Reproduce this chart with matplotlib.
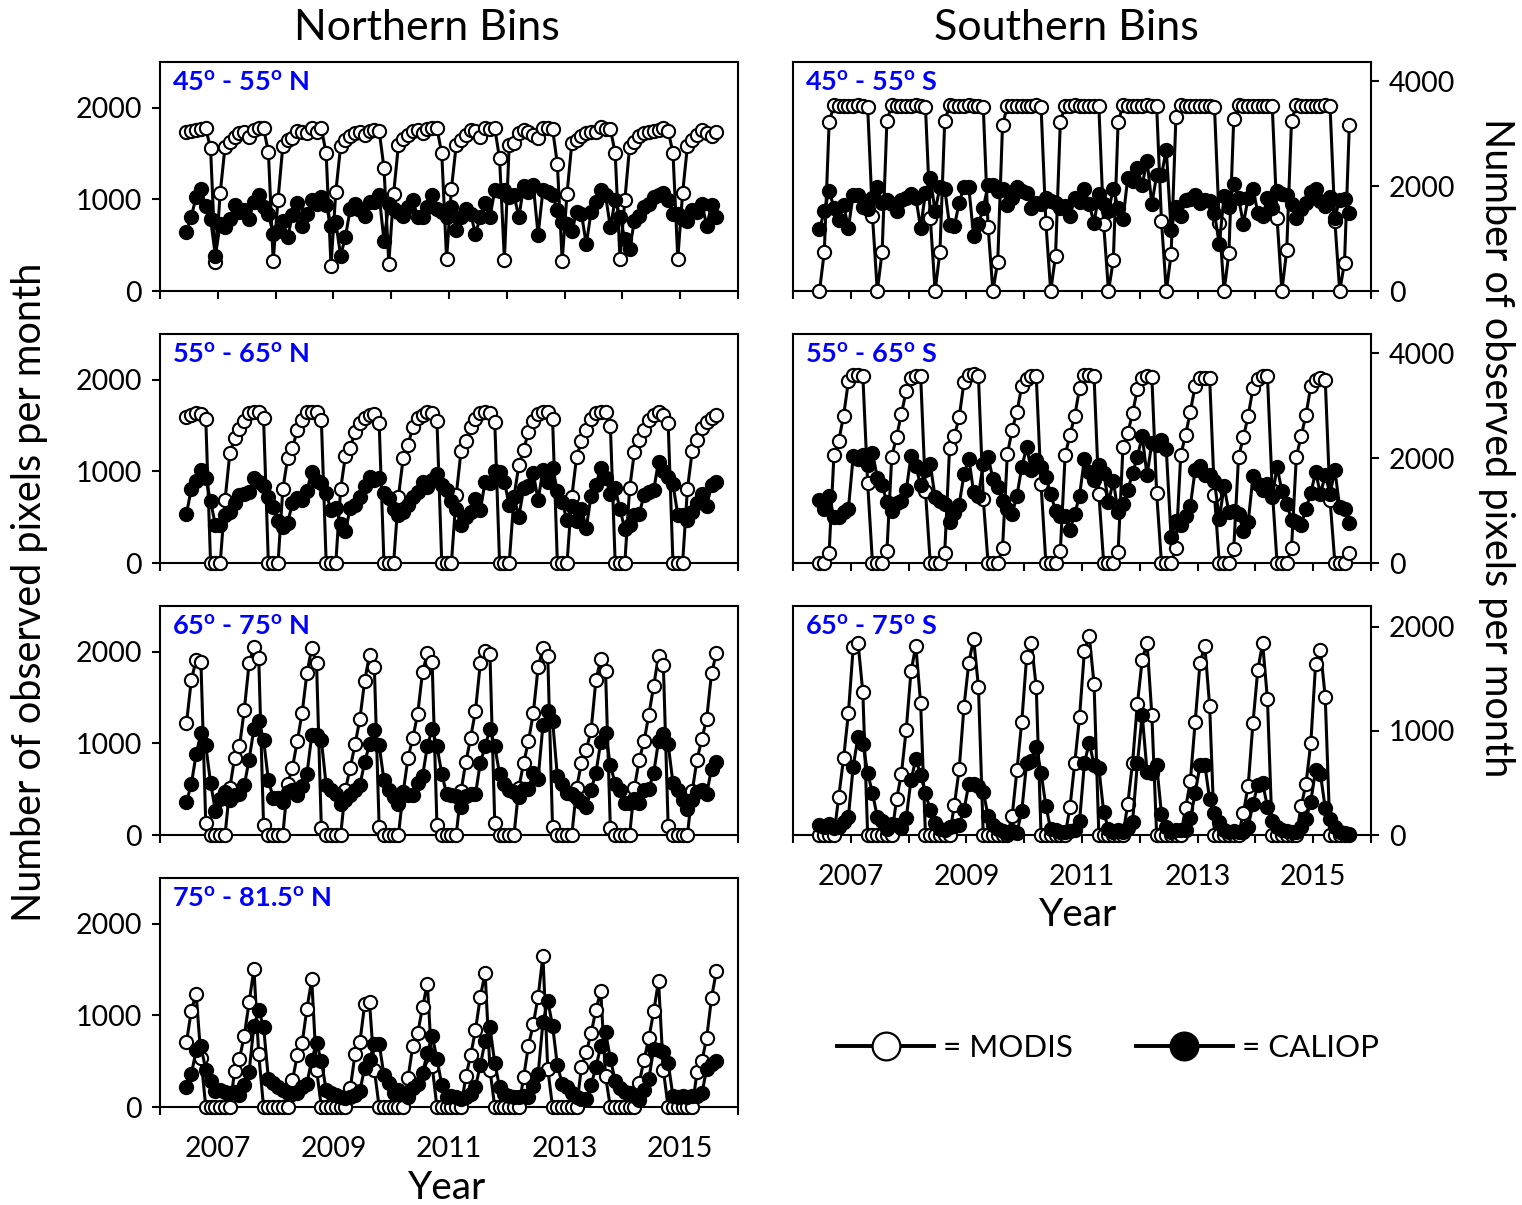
import numpy as np
import matplotlib
matplotlib.use("Agg")
import matplotlib.pyplot as plt
from matplotlib.lines import Line2D

plt.rcParams["font.family"] = ["Lato", "DejaVu Sans"]
plt.rcParams["mathtext.fontset"] = "custom"
plt.rcParams["mathtext.rm"] = "Lato"
plt.rcParams["mathtext.bf"] = "Lato:bold"

# monthly values, June 2006 .. August 2015
FIRST_YEAR, FIRST_MONTH, N_MONTHS = 2006, 6, 111
m = np.arange(N_MONTHS) + FIRST_MONTH - 1
years = FIRST_YEAR + m // 12 + (m % 12 + 0.5) / 12

# ---- 45-55 N
modis_n45 = [1740, 1747, 1758, 1769, 1776, 1557, 319,
             1070, 1575, 1630, 1685, 1722, 1740, 1685, 1758, 1776, 1776, 1520, 330,
             996, 1582, 1648, 1666, 1750, 1740, 1722, 1776, 1740, 1776, 1502, 275,
             1080, 1582, 1648, 1692, 1729, 1740, 1703, 1750, 1758, 1750, 1344, 300,
             1062, 1593, 1655, 1703, 1747, 1758, 1722, 1765, 1776, 1776, 1502, 348,
             1117, 1593, 1648, 1703, 1758, 1747, 1685, 1776, 1769, 1776, 1447, 341,
             1593, 1619, 1722, 1758, 1740, 1700, 1666, 1776, 1776, 1769, 1385, 330,
             1062, 1612, 1648, 1692, 1729, 1740, 1740, 1795, 1769, 1769, 1509, 348,
             989, 1575, 1630, 1692, 1729, 1740, 1747, 1758, 1776, 1747, 1509, 352,
             1070, 1582, 1648, 1703, 1758, 1722, 1692, 1740]
caliop_n45 = [641, 813, 1026, 1117, 927, 788, 385,
              733, 703, 788, 934, 861, 879, 788, 971, 1044, 916, 842, 623,
              659, 769, 586, 835, 960, 714, 842, 989, 945, 1026, 934, 714,
              751, 385, 593, 897, 945, 879, 824, 971, 971, 1044, 549, 952,
              897, 861, 824, 916, 989, 806, 806, 916, 1044, 897, 861, 806,
              916, 667, 806, 897, 842, 623, 806, 960, 806, 1099, 1092, 1106,
              1026, 1044, 806, 1143, 1081, 1154, 615, 1099, 1081, 1044, 886, 751,
              733, 652, 861, 842, 513, 861, 971, 1099, 1044, 696, 996, 813,
              568, 458, 769, 824, 916, 945, 1026, 1044, 1070, 996, 842, 842,
              788, 769, 879, 861, 952, 714, 934, 813]

# ---- 55-65 N
modis_n55 = [1599, 1615, 1635, 1624, 1573, 0, 0,
             0, 686, 1197, 1361, 1464, 1551, 1635, 1646, 1646, 1580, 0, 0,
             0, 807, 1142, 1252, 1453, 1562, 1653, 1653, 1646, 1562, 0, 0,
             0, 807, 1172, 1259, 1434, 1526, 1588, 1617, 1624, 1526, 0, 0,
             0, 723, 1150, 1288, 1489, 1588, 1617, 1646, 1640, 1551, 0, 0,
             0, 741, 1223, 1332, 1489, 1573, 1635, 1646, 1635, 1544, 0, 0,
             0, 723, 1069, 1234, 1434, 1551, 1624, 1653, 1646, 1573, 0, 0,
             0, 723, 1161, 1332, 1453, 1573, 1635, 1646, 1646, 1500, 0, 0,
             0, 814, 1215, 1343, 1453, 1562, 1617, 1646, 1617, 1526, 0, 0,
             0, 807, 1223, 1343, 1471, 1544, 1580, 1617]
caliop_n55 = [540, 807, 894, 1015, 923, 675, 412,
              420, 522, 558, 650, 741, 752, 777, 931, 887, 843, 723, 613,
              456, 394, 442, 650, 712, 686, 785, 996, 894, 869, 759, 577,
              602, 431, 347, 602, 631, 723, 843, 942, 905, 923, 759, 712,
              588, 529, 558, 631, 723, 777, 887, 832, 905, 967, 850, 796,
              675, 588, 412, 504, 558, 704, 577, 887, 869, 1004, 996, 887,
              631, 723, 504, 814, 843, 978, 686, 1015, 887, 1040, 785, 661,
              467, 624, 456, 588, 383, 734, 850, 1040, 931, 748, 814, 588,
              369, 412, 522, 540, 741, 777, 796, 1106, 1004, 942, 858, 529,
              522, 467, 558, 650, 748, 624, 850, 880]

# ---- 65-75 N
modis_n65 = [1221, 1692, 1909, 1884, 127, 0, 0,
             0, 0, 518, 844, 967, 1366, 1873, 2054, 1931, 109, 0, 0,
             0, 0, 562, 736, 1025, 1330, 1764, 2040, 1873, 72, 0, 0,
             0, 0, 496, 736, 989, 1268, 1685, 1967, 1837, 83, 0, 0,
             0, 0, 471, 844, 1062, 1322, 1775, 1982, 1884, 109, 0, 0,
             0, 0, 482, 797, 1062, 1359, 1873, 2004, 1975, 134, 0, 0,
             0, 0, 518, 786, 1025, 1330, 1830, 2040, 1957, 83, 0, 0,
             0, 0, 518, 786, 931, 1141, 1692, 1920, 1786, 72, 0, 0,
             0, 0, 518, 822, 1025, 1315, 1630, 1957, 1859, 98, 0, 0,
             0, 0, 482, 822, 1051, 1268, 1764, 1982]
caliop_n65 = [362, 554, 880, 1112, 978, 569, 264,
              388, 471, 380, 435, 446, 543, 822, 1159, 1250, 1040, 598, 409,
              409, 362, 471, 496, 435, 533, 663, 1087, 1087, 1033, 543, 496,
              446, 337, 380, 435, 489, 543, 797, 989, 1149, 978, 598, 489,
              417, 337, 471, 435, 435, 569, 641, 967, 1159, 967, 670, 446,
              435, 424, 301, 424, 446, 446, 786, 967, 1159, 967, 670, 562,
              496, 471, 417, 507, 507, 678, 616, 1196, 1351, 1250, 641, 562,
              460, 453, 399, 362, 308, 496, 678, 1014, 1112, 761, 562, 496,
              344, 344, 388, 344, 496, 507, 678, 1025, 1105, 989, 569, 496,
              380, 279, 380, 471, 496, 446, 725, 797]

# ---- 75-81.5 N
modis_n75 = [708, 1051, 1238, 538, 0, 0, 0,
             0, 0, 0, 394, 527, 780, 1141, 1509, 574, 0, 0, 0,
             0, 0, 0, 292, 563, 697, 1069, 1394, 408, 0, 0, 0,
             0, 0, 0, 202, 581, 708, 1123, 1141, 408, 0, 0, 0,
             0, 0, 0, 321, 671, 805, 1087, 1347, 444, 0, 0, 0,
             0, 0, 0, 336, 563, 841, 1202, 1466, 408, 0, 0, 0,
             0, 0, 0, 329, 671, 906, 1202, 1653, 419, 0, 0, 0,
             0, 0, 0, 437, 599, 805, 1058, 1267, 336, 0, 0, 0,
             0, 0, 0, 267, 516, 755, 1043, 1375, 401, 0, 0, 0,
             0, 0, 0, 383, 502, 755, 1188, 1484]
caliop_n75 = [220, 357, 617, 661, 408, 285, 177,
              184, 166, 155, 166, 130, 238, 383, 888, 1058, 877, 310, 264,
              220, 184, 155, 141, 155, 213, 256, 516, 697, 502, 184, 155,
              130, 112, 94, 105, 130, 177, 430, 516, 690, 690, 347, 264,
              155, 184, 141, 112, 202, 256, 372, 588, 780, 527, 238, 112,
              119, 105, 83, 105, 141, 220, 455, 718, 870, 480, 220, 141,
              119, 105, 112, 119, 112, 227, 357, 924, 1159, 888, 455, 256,
              213, 155, 112, 83, 83, 238, 437, 661, 816, 527, 285, 202,
              166, 155, 119, 79, 184, 310, 635, 625, 599, 480, 119, 112,
              119, 112, 119, 119, 148, 419, 473, 502]

# ---- 45-55 S
modis_s45 = [0, 749, 3219, 3545, 3530, 3535, 3525,
             3530, 3540, 3530, 3511, 1429, 0, 743, 3250, 3545, 3530, 3535, 3530,
             3525, 3540, 3530, 3511, 1397, 0, 743, 3238, 3540, 3535, 3530, 3530,
             3540, 3530, 3530, 3511, 1225, 0, 552, 3162, 3530, 3535, 3530, 3525,
             3535, 3530, 3540, 3520, 1302, 0, 667, 3225, 3535, 3530, 3540, 3530,
             3530, 3535, 3530, 3525, 1270, 0, 584, 3225, 3540, 3530, 3530, 3535,
             3530, 3540, 3530, 3525, 1333, 0, 698, 3321, 3545, 3535, 3530, 3530,
             3535, 3530, 3530, 3520, 1289, 0, 730, 3289, 3540, 3530, 3535, 3530,
             3530, 3535, 3530, 3525, 1384, 0, 775, 3250, 3540, 3530, 3530, 3535,
             3530, 3530, 3540, 3525, 1333, 0, 540, 3162]
caliop_s45 = [1175, 1524, 1917, 1587, 1346, 1638, 1206,
              1841, 1841, 1600, 1556, 1778, 1981, 1683, 1746, 1651, 1524, 1746, 1778,
              1854, 1778, 1206, 1873, 2159, 1524, 1981, 1956, 1257, 1238, 1683, 1981,
              1981, 1048, 1270, 1587, 2019, 2019, 1905, 1937, 1638, 1778, 1981, 1905,
              1873, 1587, 1683, 1663, 1778, 1714, 1683, 1587, 1619, 1429, 1778, 1702,
              1956, 1651, 1302, 1854, 1651, 1524, 1956, 1587, 1365, 2159, 2108, 2349,
              2019, 2489, 1663, 2209, 2209, 2698, 1156, 1600, 1429, 1746, 1765, 1829,
              1683, 1746, 1714, 1492, 889, 1810, 1600, 2044, 1778, 1283, 1778, 1956,
              1492, 1429, 1778, 1587, 1917, 1854, 1841, 1651, 1384, 1556, 1683, 1892,
              1937, 1714, 1619, 1790, 1397, 1746, 1765, 1492]

# ---- 55-65 S
modis_s55 = [0, 0, 199, 2058, 2333, 2808, 3468,
             3596, 3596, 3577, 1526, 0, 0, 0, 231, 2026, 2410, 2846, 3276,
             3532, 3577, 3577, 1372, 0, 0, 0, 199, 2186, 2423, 2782, 3449,
             3596, 3615, 3564, 1224, 0, 0, 0, 282, 2077, 2538, 2891, 3372,
             3513, 3564, 3564, 1500, 0, 0, 0, 231, 2058, 2442, 2808, 3340,
             3596, 3596, 3564, 1321, 0, 0, 0, 218, 2205, 2474, 2859, 3321,
             3532, 3577, 3551, 1333, 0, 0, 0, 282, 2058, 2442, 2891, 3385,
             3532, 3532, 3532, 1300, 0, 0, 0, 263, 2026, 2397, 2808, 3340,
             3513, 3577, 3564, 1400, 0, 0, 0, 282, 2026, 2423, 2827, 3372,
             3500, 3532, 3500, 1200, 0, 0, 0, 199]
caliop_s55 = [1205, 1032, 1288, 872, 872, 968, 1032,
              2038, 1994, 2058, 1865, 2103, 1628, 1481, 1160, 1000, 1141, 1192, 1385,
              2038, 1846, 1481, 1782, 1885, 1256, 1192, 1128, 776, 949, 1115, 1692,
              1994, 1353, 1288, 1897, 2026, 1609, 1449, 1192, 1032, 936, 1288, 1833,
              2205, 1782, 1962, 1833, 1641, 1321, 1000, 904, 904, 628, 936, 1288,
              1994, 1737, 1590, 1865, 1718, 1160, 1564, 968, 1128, 1385, 1718, 2026,
              2423, 1673, 2295, 2250, 2346, 2167, 487, 808, 731, 904, 1096, 1782,
              1846, 1673, 1673, 1564, 840, 1462, 968, 1000, 936, 615, 776, 1654,
              1500, 1385, 1513, 1256, 1833, 1372, 1128, 821, 776, 731, 1032, 1333,
              1737, 1321, 1673, 1321, 1769, 1064, 1032, 756]

# ---- 65-75 S
modis_s65 = [0, 0, 0, 0, 369, 737, 1170,
             1804, 1849, 1369, 0, 0, 0, 0, 0, 0, 343, 587, 1010,
             1571, 1817, 1266, 0, 0, 0, 0, 0, 0, 288, 631, 1234,
             1657, 1881, 1426, 0, 0, 0, 0, 0, 0, 183, 625, 1090,
             1708, 1843, 1420, 0, 0, 0, 0, 0, 0, 266, 696, 1138,
             1772, 1913, 1452, 0, 0, 0, 0, 0, 0, 298, 696, 1260,
             1683, 1849, 1154, 0, 0, 0, 0, 0, 0, 256, 522, 1090,
             1651, 1817, 1240, 0, 0, 0, 0, 0, 0, 215, 471, 1080,
             1587, 1843, 1304, 0, 0, 0, 0, 0, 0, 279, 490, 881,
             1644, 1779, 1324, 0, 0, 0, 0, 0]
caliop_s65 = [96, 80, 106, 64, 80, 128, 176,
              657, 946, 875, 599, 401, 176, 138, 54, 106, 96, 64, 160,
              529, 728, 577, 401, 240, 119, 54, 48, 74, 87, 96, 240,
              490, 490, 471, 417, 183, 96, 54, 42, 22, 42, 22, 234,
              689, 715, 849, 599, 279, 54, 48, 32, 32, 42, 48, 138,
              689, 888, 673, 641, 224, 54, 32, 48, 32, 64, 128, 689,
              1154, 609, 593, 673, 202, 80, 32, 48, 48, 48, 160, 401,
              673, 673, 343, 208, 128, 48, 32, 42, 32, 32, 80, 298,
              481, 497, 272, 138, 80, 48, 42, 32, 32, 80, 151, 321,
              625, 587, 256, 151, 74, 32, 16, 10]

# (label, modis, caliop, column, row, y max, y ticks)
panels = [
    ("45$^{\\mathbf{o}}$ - 55$^{\\mathbf{o}}$ N", modis_n45, caliop_n45, 0, 0, 2500, [0, 1000, 2000]),
    ("55$^{\\mathbf{o}}$ - 65$^{\\mathbf{o}}$ N", modis_n55, caliop_n55, 0, 1, 2500, [0, 1000, 2000]),
    ("65$^{\\mathbf{o}}$ - 75$^{\\mathbf{o}}$ N", modis_n65, caliop_n65, 0, 2, 2500, [0, 1000, 2000]),
    ("75$^{\\mathbf{o}}$ - 81.5$^{\\mathbf{o}}$ N", modis_n75, caliop_n75, 0, 3, 2500, [0, 1000, 2000]),
    ("45$^{\\mathbf{o}}$ - 55$^{\\mathbf{o}}$ S", modis_s45, caliop_s45, 1, 0, 4370, [0, 2000, 4000]),
    ("55$^{\\mathbf{o}}$ - 65$^{\\mathbf{o}}$ S", modis_s55, caliop_s55, 1, 1, 4370, [0, 2000, 4000]),
    ("65$^{\\mathbf{o}}$ - 75$^{\\mathbf{o}}$ S", modis_s65, caliop_s65, 1, 2, 2200, [0, 1000, 2000]),
]

W, H = 1522, 1205
fig = plt.figure(figsize=(W / 100, H / 100), dpi=100)

col_left = [160, 793]
row_bottom = [291, 563, 835, 1107]
ax_w, ax_h = 578, 229

for label, modis, caliop, col, row, ymax, yticks in panels:
    ax = fig.add_axes([col_left[col] / W, 1 - row_bottom[row] / H, ax_w / W, ax_h / H])
    ax.plot(years, modis, "-o", color="black", lw=2.2, ms=9.5, mfc="white",
            mec="black", mew=1.5, clip_on=False, zorder=3)
    ax.plot(years, caliop, "-o", color="black", lw=2.2, ms=9.5, mfc="black",
            mec="black", mew=1.5, clip_on=False, zorder=4)
    ax.set_xlim(2006, 2016)
    ax.set_ylim(0, ymax)
    ax.set_yticks(yticks)
    ax.set_xticks(range(2006, 2017))
    bottom_row = (col == 0 and row == 3) or (col == 1 and row == 2)
    if bottom_row:
        ax.set_xticklabels([str(y) if y % 2 == 1 and 2006 < y < 2016 else "" for y in range(2006, 2017)])
    else:
        ax.set_xticklabels([])
    ax.tick_params(direction="out", length=6, width=1.5, labelsize=20.5, pad=7)
    ax.tick_params(axis="x", pad=15)
    if col == 1:
        ax.yaxis.tick_right()
    for s in ax.spines.values():
        s.set_linewidth(1.5)
    ax.text(0.02, 0.91, label, transform=ax.transAxes, color="blue",
            fontsize=19.5, fontweight="bold", ha="left", va="center")

fig.text(427 / W, 1 - 28 / H, "Northern Bins", fontsize=31, ha="center", va="center")
fig.text(1066 / W, 1 - 28 / H, "Southern Bins", fontsize=31, ha="center", va="center")
fig.text(30 / W, 1 - 592 / H, "Number of observed pixels per month", fontsize=28.5,
         rotation=90, ha="center", va="center")
fig.text(1497 / W, 1 - 448 / H, "Number of observed pixels per month", fontsize=28.5,
         rotation=270, ha="center", va="center")
fig.text(447 / W, 1 - 1188 / H, "Year", fontsize=28, ha="center", va="center")
fig.text(1078 / W, 1 - 915 / H, "Year", fontsize=28, ha="center", va="center")

handles = [
    Line2D([], [], color="black", lw=2.8, marker="o", ms=20, mfc="white", mec="black", mew=1.6),
    Line2D([], [], color="black", lw=2.8, marker="o", ms=20, mfc="black", mec="black", mew=1.6),
]
fig.legend(handles, ["= MODIS", "= CALIOP"], loc="center", bbox_to_anchor=(1108 / W, 1 - 1048 / H),
           ncol=2, frameon=False, fontsize=22.5, handlelength=3.1, handletextpad=0.3,
           columnspacing=2.0, numpoints=1)

fig.savefig("out.png", dpi=100)
